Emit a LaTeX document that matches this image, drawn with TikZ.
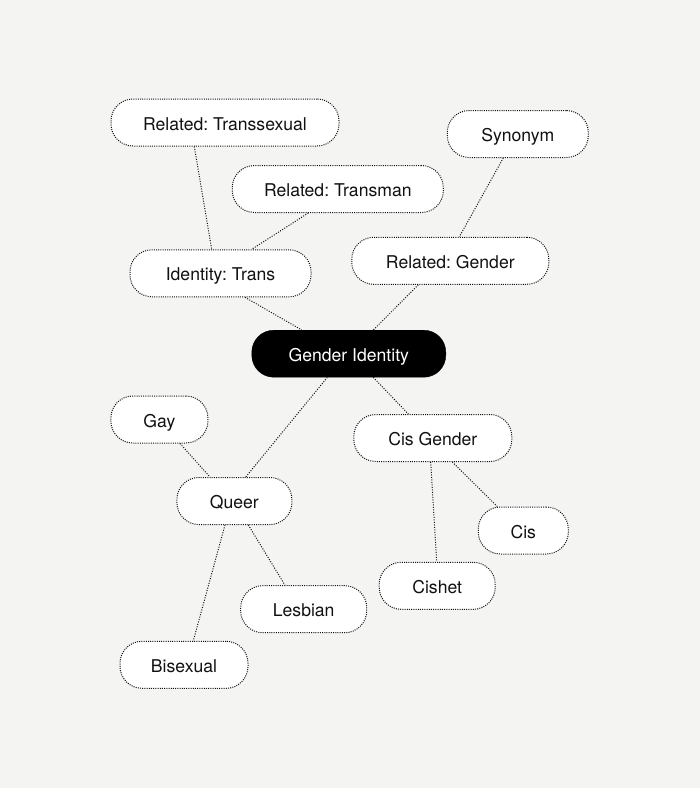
\documentclass[tikz,border=0pt]{standalone}
\usepackage{fontspec}
\setmainfont{TeX Gyre Heros}
\frenchspacing
\definecolor{bg}{HTML}{F4F4F2}
\definecolor{ink}{HTML}{111111}
\begin{document}
\begin{tikzpicture}[x=1pt,y=-1pt,
  base/.style={rounded corners=22pt, minimum height=47pt, inner sep=0pt,
    text height=15.2pt, text depth=0pt, font=\fontsize{17.6}{20}\selectfont},
  term/.style={base, draw=ink, fill=white, line width=1pt, dash pattern=on 1pt off 1.2pt,
    text=ink},
  hub/.style={base, draw=black, fill=black, text=white},
  link/.style={draw=ink, line width=1pt, dash pattern=on 1pt off 1.5pt}]
\fill[bg] (0,0) rectangle (700,788);
\useasboundingbox (0,0) rectangle (700,788);

\node[term, minimum width=228pt] (t1) at (225,122.5) {Related: Transsexual};
\node[term, minimum width=211pt] (t2) at (337.8,189) {Related: Transman};
\node[term, minimum width=141pt] (syn) at (517.8,134) {Synonym};
\node[term, minimum width=181pt] (idt) at (220.5,273.3) {Identity: Trans};
\node[term, minimum width=197pt] (rg) at (450.3,260.8) {Related: Gender};
\node[hub, minimum width=194pt] (gi) at (348.8,353.7) {Gender Identity};
\node[term, minimum width=97pt] (gay) at (159.4,419.5) {Gay};
\node[term, minimum width=158pt] (cg) at (432.8,438) {Cis Gender};
\node[term, minimum width=115pt] (queer) at (234.4,501) {Queer};
\node[term, minimum width=90pt] (cis) at (523.3,530.5) {Cis};
\node[term, minimum width=116pt] (cishet) at (437.2,585.8) {Cishet};
\node[term, minimum width=126pt] (les) at (303.7,609.2) {Lesbian};
\node[term, minimum width=128pt] (bi) at (184,664.8) {Bisexual};

\draw[link] ([xshift=-30.7pt]t1.south) -- ([xshift=-8.8pt]idt.north);
\draw[link] ([xshift=-29.5pt]t2.south) -- ([xshift=31.2pt]idt.north);
\draw[link] ([xshift=-14.5pt]syn.south) -- ([xshift=9pt]rg.north);
\draw[link] ([xshift=24.5pt]idt.south) -- ([xshift=-47.1pt]gi.north);
\draw[link] ([xshift=-32pt]rg.south) -- ([xshift=24.5pt]gi.north);
\draw[link] ([xshift=-21.5pt]gi.south) -- ([xshift=11.3pt]queer.north);
\draw[link] ([xshift=24.5pt]gi.south) -- ([xshift=-24.5pt]cg.north);
\draw[link] ([xshift=20.6pt]gay.south) -- ([xshift=-24.4pt]queer.north);
\draw[link] ([xshift=-9.4pt]queer.south) -- ([xshift=9.3pt]bi.north);
\draw[link] ([xshift=13.9pt]queer.south) -- ([xshift=-18.7pt]les.north);
\draw[link] ([xshift=-2.1pt]cg.south) -- ([xshift=-0.5pt]cishet.north);
\draw[link] ([xshift=19.5pt]cg.south) -- ([xshift=-26pt]cis.north);
\end{tikzpicture}
\end{document}
